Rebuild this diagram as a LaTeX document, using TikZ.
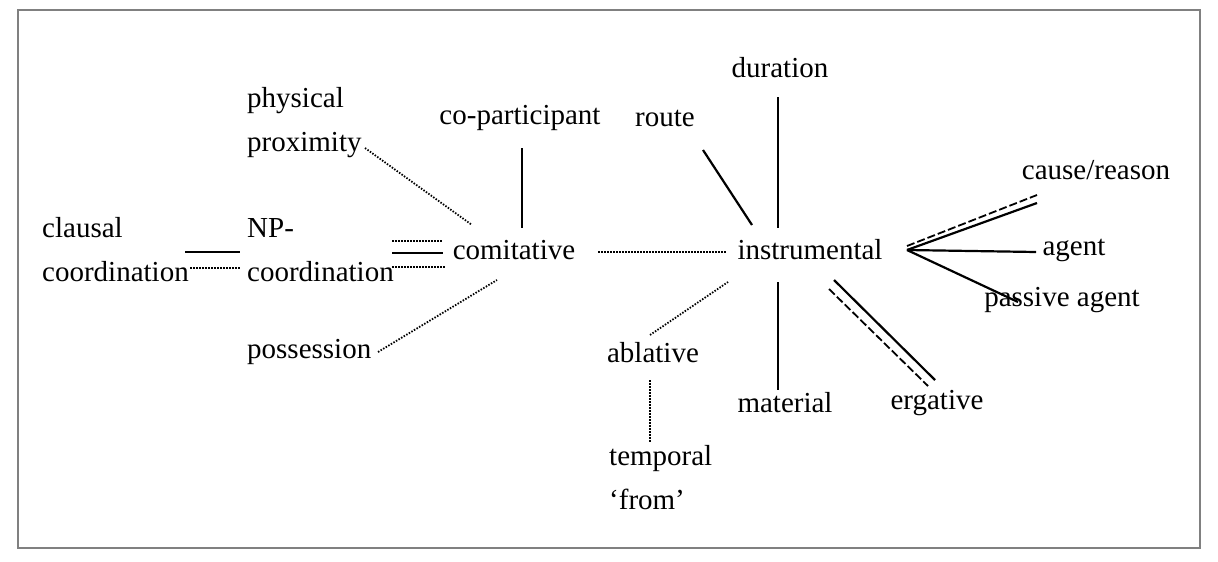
\documentclass[tikz,border=0pt]{standalone}
\usepackage{fontspec}
\setmainfont{Liberation Serif}
\begin{document}
\begin{tikzpicture}[x=1pt,y=-1pt,
  lab/.style={font=\fontsize{29}{44}\selectfont,inner sep=0pt},
  labl/.style={lab,anchor=west,align=left},
  sol/.style={line width=2.2pt},
  dot/.style={line width=1.8pt,dash pattern=on 1.5pt off 1.5pt},
  dsh/.style={line width=1.8pt,dash pattern=on 8pt off 3pt}]
\useasboundingbox (0,0) rectangle (1218,562);
\draw[line width=1.2pt,gray] (18,10) rectangle (1200,548);
\node[labl] (pp) at (247,123) {physical\\proximity};
\node[lab] (cp) at (520,118) {co-participant};
\node[lab] (du) at (780,68) {duration};
\node[lab] (ro) at (665,118) {route};
\node[lab] (cr) at (1096,170) {cause/reason};
\node[labl] (cc) at (42,250) {clausal\\coordination};
\node[labl] (np) at (247,250) {NP-\\coordination};
\node[lab] (co) at (514,250) {comitative};
\node[lab] (in) at (810,250) {instrumental};
\node[lab] (ag) at (1074,250) {agent};
\node[lab] (pa) at (1062,300) {passive agent};
\node[labl] (po) at (247,352) {possession};
\node[lab] (ab) at (653,353) {ablative};
\node[lab] (ma) at (785,403) {material};
\node[lab] (er) at (937,403) {ergative};
\node[labl] (tf) at (609,478) {temporal\\`from'};
\coordinate (a1) at (185,252); \coordinate (a2) at (240,252);
\coordinate (b1) at (190,268); \coordinate (b2) at (240,268);
\draw[sol] (a1) -- (a2);
\draw[dot] (b1) -- (b2);
\coordinate (c1) at (392,241); \coordinate (c2) at (443,241);
\coordinate (d1) at (392,253); \coordinate (d2) at (443,253);
\coordinate (e1) at (392,267); \coordinate (e2) at (446,267);
\draw[dot] (c1) -- (c2); \draw[sol] (d1) -- (d2); \draw[dot] (e1) -- (e2);
\coordinate (f1) at (365,148); \coordinate (f2) at (472,225);
\draw[dot] (f1) -- (f2);
\coordinate (g1) at (522,148); \coordinate (g2) at (522,228);
\draw[sol] (g1) -- (g2);
\coordinate (h1) at (378,352); \coordinate (h2) at (497,280);
\draw[dot] (h1) -- (h2);
\coordinate (i1) at (598,252); \coordinate (i2) at (727,252);
\draw[dot] (i1) -- (i2);
\coordinate (j1) at (703,150); \coordinate (j2) at (752,225);
\draw[sol] (j1) -- (j2);
\coordinate (k1) at (778,97); \coordinate (k2) at (778,228);
\draw[sol] (k1) -- (k2);
\coordinate (l1) at (650,335); \coordinate (l2) at (728,282);
\draw[dot] (l1) -- (l2);
\coordinate (m1) at (650,380); \coordinate (m2) at (650,442);
\draw[dot] (m1) -- (m2);
\coordinate (n1) at (778,282); \coordinate (n2) at (778,390);
\draw[sol] (n1) -- (n2);
\coordinate (o1) at (834,280); \coordinate (o2) at (935,380);
\coordinate (p1) at (829,289); \coordinate (p2) at (928,386);
\draw[sol] (o1) -- (o2); \draw[dsh] (p1) -- (p2);
\coordinate (hub) at (907,250);
\coordinate (hub2) at (907,246);
\coordinate (q1) at (1037,195); \coordinate (q2) at (1037,203);
\draw[dsh] (hub2) -- (q1);
\draw[sol] (hub) -- (q2);
\coordinate (r2) at (1036,252);
\draw[sol] (hub) -- (r2);
\coordinate (s2) at (1018,302);
\draw[sol] (hub) -- (s2);
\end{tikzpicture}
\end{document}
